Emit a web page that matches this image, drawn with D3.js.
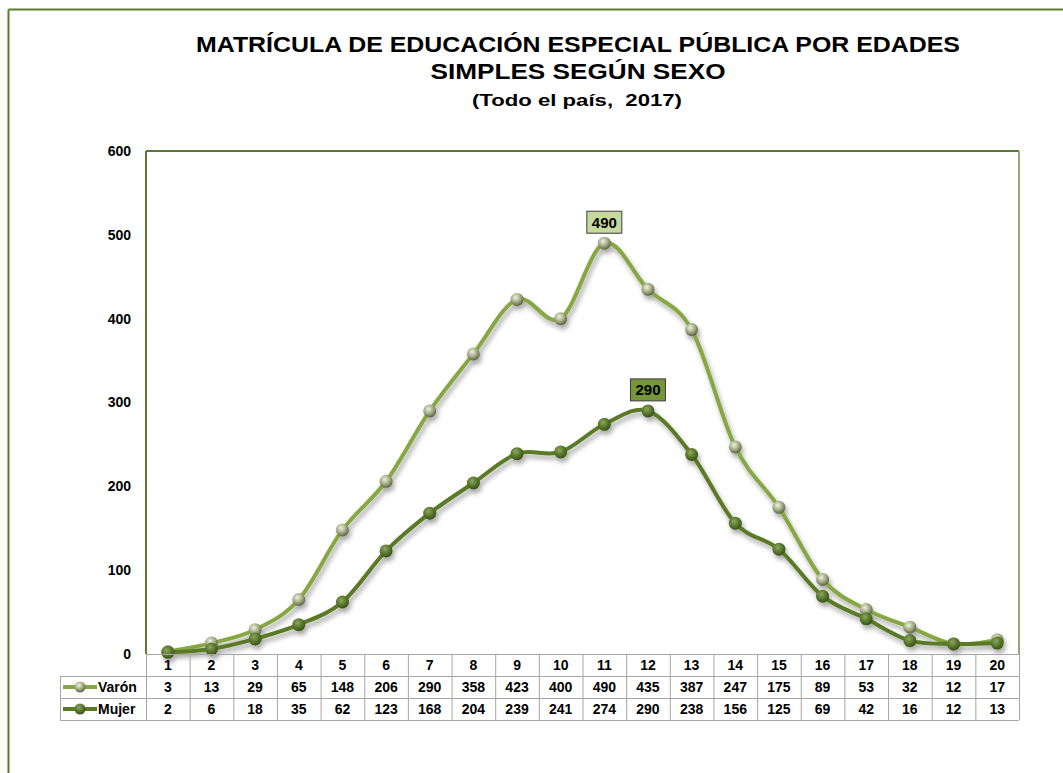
<!DOCTYPE html>
<html>
<head>
<meta charset="utf-8">
<script src="https://cdn.jsdelivr.net/npm/d3@7"></script>
<style>
  html, body { margin: 0; padding: 0; background: #fff; }
  svg { display: block; font-family: "Liberation Sans", Arial, sans-serif; }
</style>
</head>
<body>
<svg id="chart" width="1063" height="773"></svg>
<script>
// Ages (simple years) and enrolment by sex
const ages = [1, 2, 3, 4, 5, 6, 7, 8, 9, 10, 11, 12, 13, 14, 15, 16, 17, 18, 19, 20];
const varon = [3, 13, 29, 65, 148, 206, 290, 358, 423, 400, 490, 435, 387, 247, 175, 89, 53, 32, 12, 17];
const mujer = [2, 6, 18, 35, 62, 123, 168, 204, 239, 241, 274, 290, 238, 156, 125, 69, 42, 16, 12, 13];
const yTicks = [0, 100, 200, 300, 400, 500, 600];
const seriesNames = ["Varón", "Mujer"];
const titleLines = ["MATRÍCULA DE EDUCACIÓN ESPECIAL PÚBLICA POR EDADES", "SIMPLES SEGÚN SEXO"];
const subtitle = "(Todo el país,  2017)";

const svg = d3.select("#chart");
const W = 1063, H = 773;
const plot = { left: 146, top: 151, right: 1019, bottom: 654 };
const tableLeft = 60, rowH = 22;

const colors = {
  varon: "#86a843",
  mujer: "#5a7a28",
  frame: "#5e7a30"
};

const defs = svg.append("defs");
// soft shadow under the lines
const shadow = defs.append("filter").attr("id", "shadow")
  .attr("x", "-5%").attr("y", "-5%").attr("width", "110%").attr("height", "120%");
shadow.append("feGaussianBlur").attr("in", "SourceAlpha").attr("stdDeviation", 2.5).attr("result", "b");
shadow.append("feOffset").attr("in", "b").attr("dx", 2).attr("dy", 4).attr("result", "o");
shadow.append("feComponentTransfer").attr("in", "o").attr("result", "s")
  .append("feFuncA").attr("type", "linear").attr("slope", 0.35);
const merge = shadow.append("feMerge");
merge.append("feMergeNode").attr("in", "s");
merge.append("feMergeNode").attr("in", "SourceGraphic");

// sphere-like marker gradients
function sphere(id, light, mid, dark) {
  const g = defs.append("radialGradient").attr("id", id)
    .attr("cx", "40%").attr("cy", "35%").attr("r", "65%");
  g.append("stop").attr("offset", "0%").attr("stop-color", light);
  g.append("stop").attr("offset", "55%").attr("stop-color", mid);
  g.append("stop").attr("offset", "100%").attr("stop-color", dark);
}
sphere("gVaron", "#eef2dc", "#a4ad88", "#5c6640");
sphere("gMujer", "#8ea564", "#5a7a2c", "#3a5218");

// outer frame (top and left edges)
svg.append("line").attr("x1", 8.5).attr("x2", W).attr("y1", 9.5).attr("y2", 9.5)
  .attr("stroke", colors.frame).attr("stroke-width", 2);
svg.append("line").attr("x1", 8.5).attr("x2", 8.5).attr("y1", 9.5).attr("y2", H)
  .attr("stroke", colors.frame).attr("stroke-width", 2);

// titles (stretched to the width of the heading block)
const title = svg.append("g").attr("text-anchor", "middle").attr("font-weight", "bold").attr("fill", "#000");
title.append("text").attr("x", 578).attr("y", 52).attr("font-size", 22)
  .attr("textLength", 764).attr("lengthAdjust", "spacingAndGlyphs").text(titleLines[0]);
title.append("text").attr("x", 578).attr("y", 79).attr("font-size", 22)
  .attr("textLength", 295).attr("lengthAdjust", "spacingAndGlyphs").text(titleLines[1]);
title.append("text").attr("x", 577).attr("y", 106).attr("font-size", 17)
  .attr("textLength", 210).attr("lengthAdjust", "spacingAndGlyphs")
  .style("white-space", "pre").text(subtitle);

// scales
const x = d3.scaleBand().domain(ages).range([plot.left, plot.right]);
const y = d3.scaleLinear().domain([0, 600]).range([plot.bottom, plot.top]);
const cx = d => x(d) + x.bandwidth() / 2;

// plot area border
svg.append("line").attr("x1", plot.left).attr("x2", plot.right).attr("y1", plot.top).attr("y2", plot.top)
  .attr("stroke", colors.frame).attr("stroke-width", 2);
svg.append("line").attr("x1", plot.left).attr("x2", plot.left).attr("y1", plot.top).attr("y2", plot.bottom)
  .attr("stroke", colors.frame).attr("stroke-width", 2);
svg.append("line").attr("x1", plot.right).attr("x2", plot.right).attr("y1", plot.top).attr("y2", plot.bottom)
  .attr("stroke", "#9aa37c").attr("stroke-width", 2);

// y axis labels
const yAxis = d3.axisLeft(y).tickValues(yTicks).tickSize(0).tickPadding(15);
svg.append("g").attr("transform", `translate(${plot.left},0)`).call(yAxis)
  .call(g => g.select(".domain").remove())
  .selectAll("text").attr("font-size", 14).attr("font-weight", "bold")
  .attr("font-family", "Liberation Sans, Arial, sans-serif").attr("fill", "#000");

// lines
const line = d3.line().x((d, i) => cx(ages[i])).y(d => y(d)).curve(d3.curveCatmullRom.alpha(0));
const series = [
  { key: "varon", name: seriesNames[0], values: varon, color: colors.varon, grad: "url(#gVaron)", r: 6.5 },
  { key: "mujer", name: seriesNames[1], values: mujer, color: colors.mujer, grad: "url(#gMujer)", r: 6.5 }
];

const lines = svg.append("g").attr("filter", "url(#shadow)");
series.forEach(s => {
  lines.append("path").datum(s.values).attr("d", line)
    .attr("fill", "none").attr("stroke", s.color).attr("stroke-width", 4)
    .attr("stroke-linejoin", "round");
});
series.forEach(s => {
  lines.append("g").selectAll("circle").data(s.values).join("circle")
    .attr("cx", (d, i) => cx(ages[i])).attr("cy", d => y(d)).attr("r", s.r)
    .attr("fill", s.grad);
});

// peak value labels
function peakLabel(values, fill) {
  const v = d3.max(values), i = values.indexOf(v);
  const g = svg.append("g").attr("transform", `translate(${cx(ages[i])},${y(v) - 21})`);
  g.append("rect").attr("x", -17.5).attr("y", -11).attr("width", 35).attr("height", 22)
    .attr("fill", fill).attr("stroke", "#3d3d3d").attr("stroke-width", 1);
  g.append("text").attr("text-anchor", "middle").attr("dy", "0.36em")
    .attr("font-size", 15).attr("font-weight", "bold").text(v);
}
peakLabel(varon, "#c5d9a0");
peakLabel(mujer, "#76963a");

// data table
const table = svg.append("g").attr("font-weight", "bold").attr("font-size", 14).attr("fill", "#000");
const gridColor = "#a6a6a6";
const tTop = plot.bottom, tBottom = plot.bottom + rowH * 3;
// horizontal rules
[tTop + rowH, tTop + rowH * 2, tBottom].forEach(yy => {
  table.append("line").attr("x1", tableLeft).attr("x2", plot.right).attr("y1", yy + 0.5).attr("y2", yy + 0.5)
    .attr("stroke", gridColor);
});
table.append("line").attr("x1", plot.left).attr("x2", plot.right).attr("y1", tTop + 0.5).attr("y2", tTop + 0.5)
  .attr("stroke", gridColor);
table.append("line").attr("x1", tableLeft + 0.5).attr("x2", tableLeft + 0.5).attr("y1", tTop + rowH).attr("y2", tBottom)
  .attr("stroke", gridColor);
// vertical rules
ages.forEach(a => {
  table.append("line").attr("x1", x(a) + 0.5).attr("x2", x(a) + 0.5).attr("y1", tTop).attr("y2", tBottom)
    .attr("stroke", gridColor);
});
table.append("line").attr("x1", plot.right + 0.5).attr("x2", plot.right + 0.5).attr("y1", tTop).attr("y2", tBottom)
  .attr("stroke", gridColor);

// header row: ages
table.append("g").selectAll("text").data(ages).join("text")
  .attr("x", d => cx(d)).attr("y", tTop + rowH / 2).attr("dy", "0.36em")
  .attr("text-anchor", "middle").text(d => d);

series.forEach((s, k) => {
  const ry = tTop + rowH * (k + 1) + rowH / 2;
  table.append("g").selectAll("text").data(s.values).join("text")
    .attr("x", (d, i) => cx(ages[i])).attr("y", ry).attr("dy", "0.36em")
    .attr("text-anchor", "middle").text(d => d);
  // legend key
  table.append("line").attr("x1", tableLeft + 3).attr("x2", tableLeft + 37).attr("y1", ry).attr("y2", ry)
    .attr("stroke", s.color).attr("stroke-width", 4);
  table.append("circle").attr("cx", tableLeft + 20).attr("cy", ry).attr("r", 5.5).attr("fill", s.grad);
  table.append("text").attr("x", tableLeft + 38).attr("y", ry).attr("dy", "0.36em").text(s.name);
});
</script>
</body>
</html>
